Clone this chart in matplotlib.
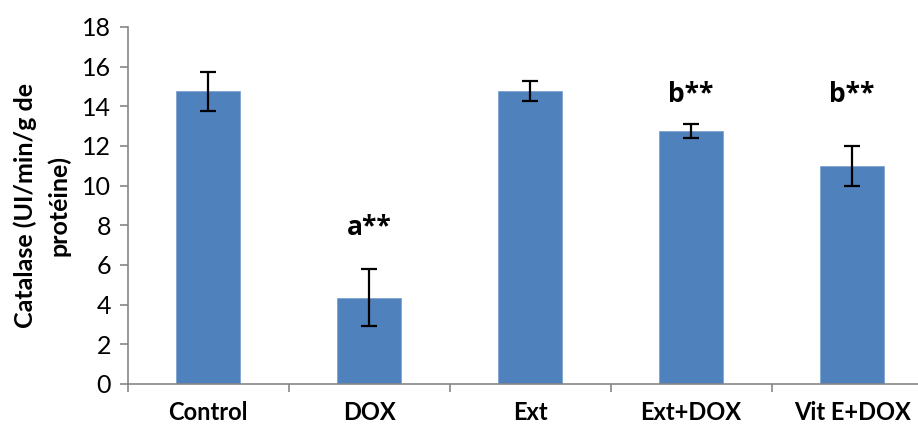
import matplotlib.pyplot as plt
import numpy as np

# data
groups = ["Control", "DOX", "Ext", "Ext+DOX", "Vit E+DOX"]
catalase = [14.75, 4.35, 14.75, 12.75, 11.0]
errors = [1.0, 1.43, 0.5, 0.35, 1.0]
marks = ["", "a**", "", "b**", "b**"]
mark_y = [0, 7.9, 0, 14.6, 14.6]

plt.rcParams['font.family'] = ['Lato', 'DejaVu Sans']

fig = plt.figure(figsize=(9.18, 4.28), dpi=100)
ax = fig.add_axes([0.139, 0.103, 0.877, 0.834])

x = np.arange(len(groups))
ax.bar(x, catalase, width=0.4, color="#4F81BD", edgecolor="#7FA3D0", linewidth=0.6, zorder=2)
ax.errorbar(x, catalase, yerr=errors, fmt="none", ecolor="black",
            elinewidth=1.6, capsize=6, capthick=1.6, zorder=3)

for xi, m, my in zip(x, marks, mark_y):
    if m:
        ax.text(xi, my, m, ha="center", va="center", fontsize=19, fontweight="bold",
                family=["Open Sans", "DejaVu Sans"])

ax.set_xlim(-0.5, len(groups) - 0.5)
ax.set_ylim(0, 18)
ax.set_yticks(range(0, 19, 2))
ax.set_xticks(x)
ax.set_xticklabels(groups, fontsize=17, fontweight="bold")
ax.set_xticks(np.arange(-0.5, len(groups), 1.0), minor=True)
ax.tick_params(axis="x", which="major", length=0, pad=12)
ax.tick_params(axis="x", which="minor", length=6, color="#868686", width=1.2)
ax.tick_params(axis="y", labelsize=18, length=6, color="#868686", width=1.2, pad=6)

for side in ["top", "right"]:
    ax.spines[side].set_visible(False)
for side in ["left", "bottom"]:
    ax.spines[side].set_color("#868686")
    ax.spines[side].set_linewidth(1.2)

ax.set_ylabel("Catalase (UI/min/g de\nprotéine)", fontsize=18, fontweight="bold",
              labelpad=8, linespacing=1.5)

fig.savefig("out.png", dpi=100)
